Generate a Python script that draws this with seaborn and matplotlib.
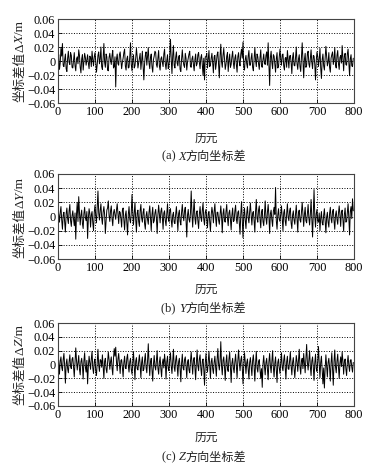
import numpy as np
import pandas as pd
import matplotlib
matplotlib.use("Agg")
import matplotlib.pyplot as plt
import seaborn as sns
from matplotlib.offsetbox import TextArea, HPacker, AnnotationBbox

# epochs sampled every 2 (0..798), coordinate differences in mm
epochs = list(range(0, 800, 2))

dx_mm = [
    5, 9, -12, -3, 18, 7, 25, -6, -8, 2, 10, -11, -15, 4, 14, -2, -5, 12, 8, -9,
    -10, 1, 12, -7, -14, 3, 6, -4, 16, 8, -9, -17, 3, 9, -13, -1, 11, 5, -6, 2,
    9, -3, -11, 7, 5, -8, 14, 2, -7, 6, 12, -1, -16, -5, 8, 13, -4, 3, 20, -8,
    -12, 4, 25, -2, -9, 10, 6, -13, -14, 5, 11, 1, -5, 8, 15, -10, -8, 6, -37, 3,
    10, -4, -6, 9, 13, 1, -11, -2, 4, 12, 17, -7, -13, 3, 7, -10, -9, 6, 26, -5,
    -14, 2, 9, -10, -7, 4, 18, 6, -10, -3, 5, 11, -12, 0, 14, -6, -27, -4, 8, 13,
    -6, 6, 19, -3, -11, 5, 10, -8, -16, 2, 7, 14, 12, -5, -9, 4, 15, -7, -13, 3,
    6, -2, -8, 10, 17, -4, -12, 1, 9, -11, -5, 7, 31, 2, -18, 8, 22, -6, -10, 5,
    13, -3, -7, 6, 8, -12, -15, 3, 16, 1, -6, -9, 11, 4, -13, -2, 4, 10, 14, -8,
    -9, 3, 7, -5, -14, 2, 10, -7, -4, 9, 12, -2, -11, 5, 9, -6, -20, 4, -27, 6,
    6, 11, -10, 2, 15, -8, -6, 4, 11, -3, -17, 6, 8, -12, -3, 9, 13, -5, -24, 7,
    24, -1, -9, 8, 18, 3, -12, -5, 7, 12, -15, 1, 10, -9, -5, 6, 14, -3, -11, 4,
    9, -5, -16, 6, 12, -2, -7, 10, 17, 4, 27, -8, -13, 2, 8, -4, -10, 7, 15, -6,
    -6, 4, 11, -9, -14, 3, 19, 1, -8, 10, 6, -4, -12, 5, 16, -7, -9, 2, 10, -3,
    -5, 8, 13, -6, 26, -3, -35, 5, 14, -2, -11, 9, 7, -4, -16, 3, 12, -10, -8, 6,
    17, 2, -6, 9, 10, -7, -13, 4, 5, -9, 15, 3, -10, 7, 8, -2, -18, 5, 12, -6,
    -7, 5, 20, -4, -12, 3, 9, -8, -15, 6, 26, -1, -24, 2, 11, -9, -6, 10, 14, -4,
    -9, 4, 16, -2, -11, 8, 7, -5, -27, 1, 13, 6, -8, 3, 18, -10, -25, 2, 10, -7,
    -13, 3, 21, 6, -7, -2, 12, -9, -16, 4, 9, 13, -5, 2, 19, -6, -10, 8, 15, -4,
    -12, 5, 8, -3, 22, 4, -14, 7, 11, -5, -6, 10, 17, -2, -21, 3, 9, -7, -8, 4,
]

dy_mm = [
    10, 3, -8, 6, 14, -5, -18, 2, 6, -9, -22, 4, 12, -3, -10, 8, 17, -6, -14, 1,
    8, -4, -13, 5, -32, 3, 20, -7, 28, 6, -12, 2, 9, -10, -17, 4, 13, -2, -6, 7,
    -31, -3, 11, 4, -15, 2, 7, -9, -20, 6, 16, 1, -9, 12, 36, 5, -5, 9, 18, -2,
    -11, 6, 14, 3, -24, -6, 9, 12, 22, 1, -7, 8, 15, -3, -13, 5, 10, 2, -4, 9,
    18, 4, -10, 7, 6, -3, -15, 9, 12, -5, -19, 2, 8, -8, -26, 3, 14, -4, -9, 5,
    31, 6, -12, 3, 20, -4, -22, 5, 9, -7, -14, 8, 17, -2, -8, 6, 11, -10, -18, 1,
    7, -4, -11, 6, 15, -2, -20, 3, 13, -9, -6, 5, 10, -3, -24, 2, 16, 4, -9, 7,
    12, -1, -18, 5, 8, -6, -13, 4, 18, -3, -7, 9, 11, -5, -15, 2, 6, -8, -10, 3,
    14, -3, -20, 4, 9, -7, -12, 6, 17, 1, -6, 8, 13, -5, -29, 2, 10, -4, -8, 5,
    36, 4, -15, 7, 24, -2, -11, 5, 8, -6, -17, 3, 14, -1, -7, 9, 19, -4, -12, 6,
    10, -3, -16, 4, 7, -8, -21, 2, 13, 5, -9, 7, 18, -2, -14, 6, 6, -5, -11, 3,
    15, 1, -23, 4, 11, -6, -8, 7, 17, -3, -13, 5, 9, -4, -19, 2, 12, -7, -6, 8,
    16, -4, -10, 6, 8, -9, -25, 3, 21, -6, -30, 1, 12, -5, -17, 4, 14, -2, -9, 7,
    19, 2, -12, 5, 7, -6, -22, 8, 24, -3, -8, 9, 15, -4, -16, 6, 10, -7, -13, 3,
    22, -2, -11, 6, 17, 1, -24, 4, 9, -5, -14, 7, 13, 3, 41, -6, -18, 2, 11, -4,
    -7, 3, 15, -2, -20, 5, 10, -6, -13, 4, 18, -1, -6, 8, 12, -9, -17, 2, 8, -5,
    -11, 4, 16, -3, -22, 6, 9, -5, -8, 7, 20, 2, -14, 3, 13, -6, -9, 5, 17, -2,
    -12, 3, 24, -4, -29, 6, 38, 1, -15, 4, 10, -7, -8, 5, -20, -2, 7, -9, -12, 2,
    11, -5, -23, -1, 6, -8, -15, 4, 13, -3, -9, 7, 10, -6, -18, 2, 8, -4, -11, 5,
    15, 2, -14, 6, 9, -4, -21, 3, 12, -8, -7, 5, 18, -2, -26, 7, 14, -3, 25, 8,
]

dz_mm = [
    20, 3, -14, 5, 11, -4, -9, 7, 16, -2, -27, 1, 8, -6, -12, 4, 14, -3, -6, 8,
    10, -5, -18, 2, 24, 6, -8, 3, 13, -7, -15, 4, 9, -2, -21, 5, 17, -4, -11, 6,
    -28, -3, 12, 2, -7, 8, 19, -5, -13, 4, 8, -9, -16, 3, 22, -1, -10, 7, 6, -4,
    14, -2, -20, 5, 9, -6, -12, 3, 18, 7, -7, 4, 11, -5, -15, 9, 23, 12, 25, 4,
    -9, 8, 16, 2, -13, 6, 7, -4, -18, 3, 12, -5, -6, 9, 15, -2, -11, 4, 9, -7,
    -14, 2, 18, -3, -22, 5, 10, -6, -8, 4, 14, -1, -19, 3, 11, -9, -7, 6, 16, -4,
    -12, 5, 30, 2, -16, 4, 9, -7, -24, 1, 13, -3, -8, 6, 20, -5, -14, 3, 11, -6,
    -18, 2, 8, -5, 15, 3, -21, 4, 12, -6, -9, 7, 17, -2, -13, 5, 22, -4, -10, 6,
    13, -3, -17, 4, 9, -6, -25, 2, 15, -5, -8, 7, 11, -2, -19, 3, 7, -8, -12, 5,
    18, 1, -14, 6, 10, -4, -22, 3, 21, -2, -9, 8, 14, -5, -16, 4, 8, -7, -30, 2,
    16, -3, -11, 5, 19, -2, -20, 4, 9, -6, -13, 3, 12, -4, -17, 7, 23, 1, -8, 5,
    33, -2, -15, 6, 11, -4, -23, 3, 14, -6, -10, 8, 18, -3, -26, 2, 9, -5, -12, 4,
    15, -1, -19, 5, 21, 3, -9, 6, 12, -4, -28, -2, 17, 4, -13, 2, 8, -7, -21, 3,
    10, -4, -16, 6, 14, -3, -24, 2, 19, -5, -11, 4, 7, -8, -20, -6, -33, 1, 13, -3,
    -15, 3, 9, -6, -22, 4, 16, -2, -12, 5, 20, -4, -18, 2, 11, -7, -26, 3, 8, -5,
    -13, 2, 17, -4, -9, 6, 14, -3, -21, 4, 12, -6, -7, 5, 18, -2, -15, 3, 10, -5,
    -19, -2, 13, 4, -10, 7, 22, -3, -14, 5, 9, -6, 16, 2, -12, 8, 29, 3, -8, 6,
    20, -3, -16, 5, 11, -4, -23, 2, 15, -6, -10, 4, 26, 1, -19, 3, 12, -9, -28, -5,
    -34, -6, 14, -2, -18, 3, 9, -5, -24, 2, 17, -7, -30, 4, 21, -3, -12, 5, 15, -4,
    -20, 2, 11, -3, 18, 5, -14, 4, 8, -6, -16, 3, 13, -2, -10, 6, 7, -4, -11, 3,
]

axis_letters = ["X", "Y", "Z"]
panel_tags = ["(a) ", "(b) ", "(c) "]
xticks = [0, 100, 200, 300, 400, 500, 600, 700, 800]
yticks = [-0.06, -0.04, -0.02, 0, 0.02, 0.04, 0.06]
yticklabels = ["−0.06", "−0.04", "−0.02", "0", "0.02", "0.04", "0.06"]

sns.set_style("ticks")
fam = ["Liberation Serif", "Noto Sans CJK SC"]
cjk = "Noto Sans CJK SC"
plt.rcParams["font.family"] = fam
plt.rcParams["axes.unicode_minus"] = True

fig = plt.figure(figsize=(3.84, 4.70), dpi=100)
H = 470.0
txt = "#222222"

# axes boxes in pixels from top: (top, bottom)
boxes = [(19, 103), (174, 259), (323, 406)]
left_px, right_px = 58, 354
caption_y = [156, 308, 457]
xlabel_y = [138, 289, 437]

for i, series in enumerate([dx_mm, dy_mm, dz_mm]):
    top, bot = boxes[i]
    df = pd.DataFrame({"epoch": epochs, "diff": np.array(series) / 1000.0})
    ax = fig.add_axes([left_px / 384, 1 - bot / H, (right_px - left_px) / 384, (bot - top) / H])
    sns.lineplot(data=df, x="epoch", y="diff", ax=ax, color="black", linewidth=0.7)
    ax.set_xlim(0, 800)
    ax.set_ylim(-0.06, 0.06)
    ax.set_xticks(xticks)
    ax.set_xticklabels([str(t) for t in xticks])
    ax.set_yticks(yticks)
    ax.set_yticklabels(yticklabels)
    ax.grid(True, color="black", linestyle=":", linewidth=0.7)
    ax.tick_params(direction="in", length=3, width=0.6, labelsize=8.8, pad=2, colors="black")
    for s in ax.spines.values():
        s.set_linewidth(0.8)
        s.set_color("#444444")
    ax.set_xlabel("")
    ax.set_ylabel("")

    # x label
    fig.text(206 / 384, 1 - xlabel_y[i] / H, "历元", ha="center", va="center",
             fontsize=8.5, family=cjk, color=txt)

    # y label built from pieces so the axis letter can be italic
    prev = ax.annotate("坐标差值", xy=(20, H - bot + 1), xycoords="figure pixels",
                       rotation=90, ha="center", va="bottom", fontsize=9, family=cjk,
                       annotation_clip=False, color=txt)
    for piece, style in [("Δ", "normal"), (axis_letters[i], "italic"), ("/m", "normal")]:
        prev = ax.annotate(piece, xy=(0.5, 1), xycoords=prev, rotation=90,
                           ha="center", va="bottom", fontsize=9.5,
                           family="Liberation Serif", fontstyle=style,
                           annotation_clip=False, color=txt)

    # caption under each panel
    parts = [
        TextArea(panel_tags[i], textprops=dict(fontsize=9, family="Liberation Serif", color=txt)),
        TextArea(axis_letters[i], textprops=dict(fontsize=9, family="Liberation Serif",
                                                 fontstyle="italic", color=txt)),
        TextArea("方向坐标差", textprops=dict(fontsize=8.7, family=cjk, color=txt)),
    ]
    pack = HPacker(children=parts, align="baseline", pad=0, sep=0)
    ab = AnnotationBbox(pack, (204, H - caption_y[i]), xycoords="figure pixels",
                        frameon=False, box_alignment=(0.5, 0.5), annotation_clip=False)
    fig.add_artist(ab)

fig.savefig("out.png", dpi=100)
